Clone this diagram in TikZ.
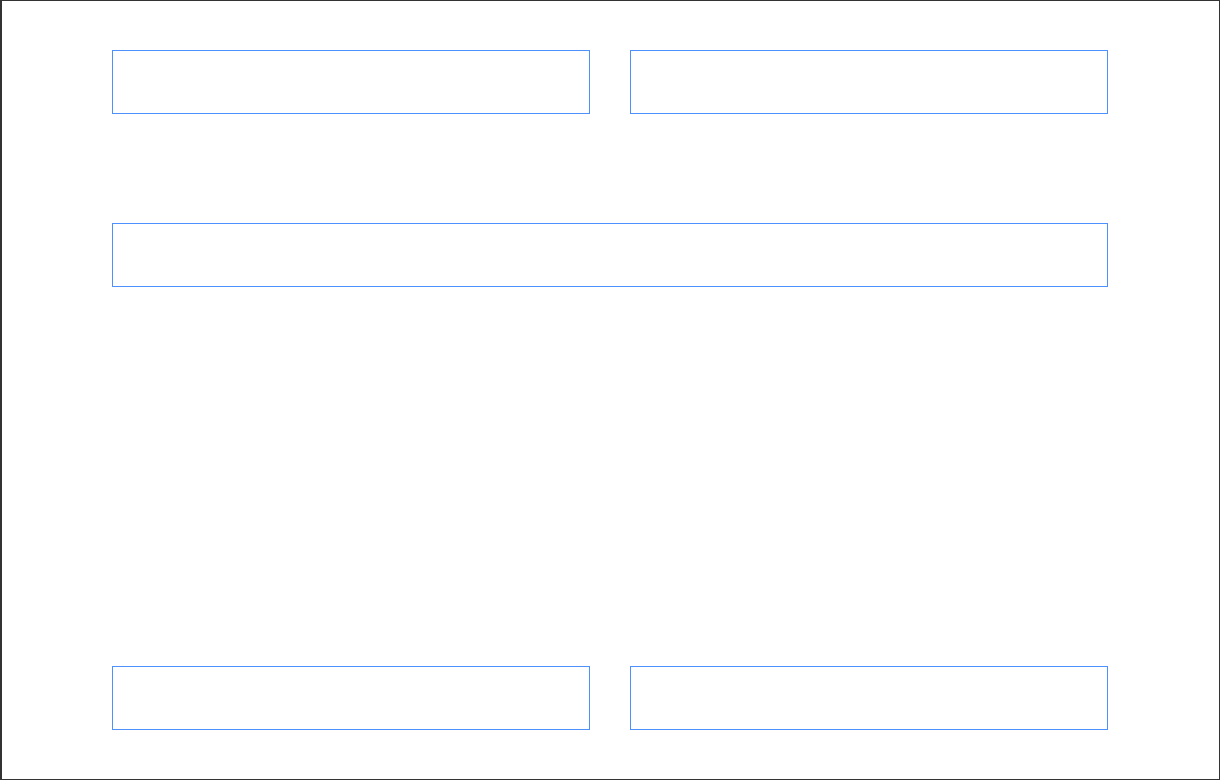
\documentclass[tikz,border=0pt]{standalone}
\usepackage{tikz}
\usetikzlibrary{positioning}
\definecolor{boxblue}{RGB}{77,144,254}
\definecolor{frame}{RGB}{51,51,51}

\begin{document}
\begin{tikzpicture}[x = 0.5pt, y = -0.5pt,
    box/.style = {draw = boxblue, line width = 0.5pt, inner sep = 0pt,
                  anchor = north west, minimum height = 31.5pt},
    half/.style = {box, minimum width = 238.5pt},
    full/.style = {box, minimum width = 497.25pt}]
  \useasboundingbox (0,0) rectangle (1220,780);
  \draw[frame, line width = 1pt] (0.5,0.5) rectangle (1219.5,779.5);
  % top row
  \node[half] (topleft) at (112,50) {};
  \node[half, right = 20pt of topleft.north east, anchor = north west] (topright) {};
  % middle
  \node[full] (middle) at (112,223) {};
  % bottom row
  \node[half] (botleft) at (112,666) {};
  \node[half, right = 20pt of botleft.north east, anchor = north west] (botright) {};
\end{tikzpicture}
\end{document}
